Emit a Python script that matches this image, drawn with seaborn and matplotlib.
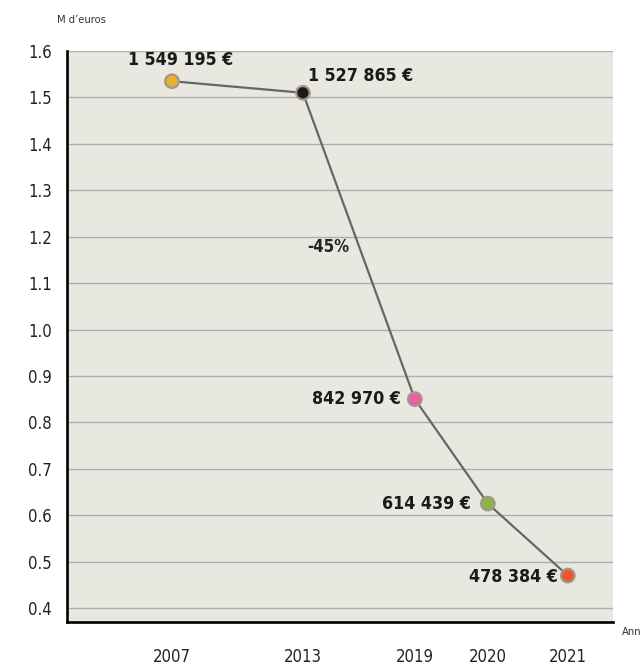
import matplotlib
matplotlib.use("Agg")
import matplotlib.pyplot as plt
import seaborn as sns
import pandas as pd

# donnees
annees = ["2007", "2013", "2019", "2020", "2021"]
valeurs = [1.535, 1.51, 0.85, 0.625, 0.47]   # M d'euros
etiquettes = ["1 549 195 €", "1 527 865 €", "842 970 €", "614 439 €", "478 384 €"]
couleurs = ["#e8b030", "#1c1c1c", "#ec5fa8", "#8cb443", "#f2542e"]

# position horizontale des annees sur l'axe (mise en page)
x_pos = [1.05, 2.36, 3.48, 4.21, 5.01]

df = pd.DataFrame({"annee": annees, "x": x_pos, "valeur": valeurs})

sns.set_theme(style="white")
plt.rcParams["font.family"] = ["DejaVu Sans"]
plt.rcParams["font.stretch"] = "condensed"

fig = plt.figure(figsize=(6.41, 6.67), dpi=100)
ax = fig.add_axes([0.1045, 0.0675, 0.8515, 0.856])
ax.set_facecolor("#e9e8e0")

sns.lineplot(data=df, x="x", y="valeur", color="#666666", linewidth=1.6,
             ax=ax, zorder=3)
sns.scatterplot(data=df, x="x", y="valeur", hue="annee", palette=couleurs,
                s=95, edgecolor="#a39888", linewidth=1.6, legend=False,
                ax=ax, zorder=4)

ax.set_xlim(0, 5.46)
ax.set_ylim(0.37, 1.6)
ax.set_yticks([0.4 + 0.1 * i for i in range(13)])
ax.set_yticklabels([f"{0.4 + 0.1 * i:.1f}" for i in range(13)], fontsize=12)
ax.set_xticks(x_pos)
ax.set_xticklabels(annees, fontsize=12)
ax.yaxis.grid(True, color="#adadad", linewidth=1)
ax.set_axisbelow(True)

for s in ["top", "right"]:
    ax.spines[s].set_visible(False)
for s in ["left", "bottom"]:
    ax.spines[s].set_color("black")
    ax.spines[s].set_linewidth(1.9)
ax.tick_params(axis="y", direction="out", length=9, width=1.5, color="black",
               pad=2, labelcolor="#222222")
ax.tick_params(axis="x", direction="out", length=11, width=1.5, color="black",
               pad=8, labelcolor="#222222")
ax.set_xlabel("")
ax.set_ylabel("")

# etiquettes des valeurs
decalages = [(6, 15, "center"), (4, 12, "left"), (-10, 0, "right"),
             (-12, 0, "right"), (-7, -1, "right")]
for xi, yi, txt, (dx, dy, ha) in zip(x_pos, valeurs, etiquettes, decalages):
    ax.annotate(txt, (xi, yi), xytext=(dx, dy), textcoords="offset points",
                ha=ha, va="center", fontsize=12.8, fontweight="bold",
                color="#1a1a1a")

ax.text(2.61, 1.178, "-45%", fontsize=12, fontweight="bold",
        color="#222222", ha="center", va="center")

fig.text(57 / 641, 1 - 20 / 667, "M d\u2019euros", fontsize=8,
         color="#333333", va="center")
fig.text(622 / 641, 1 - 632 / 667, "Années", fontsize=8,
         color="#333333", va="center")

fig.savefig("out.png", dpi=100)
